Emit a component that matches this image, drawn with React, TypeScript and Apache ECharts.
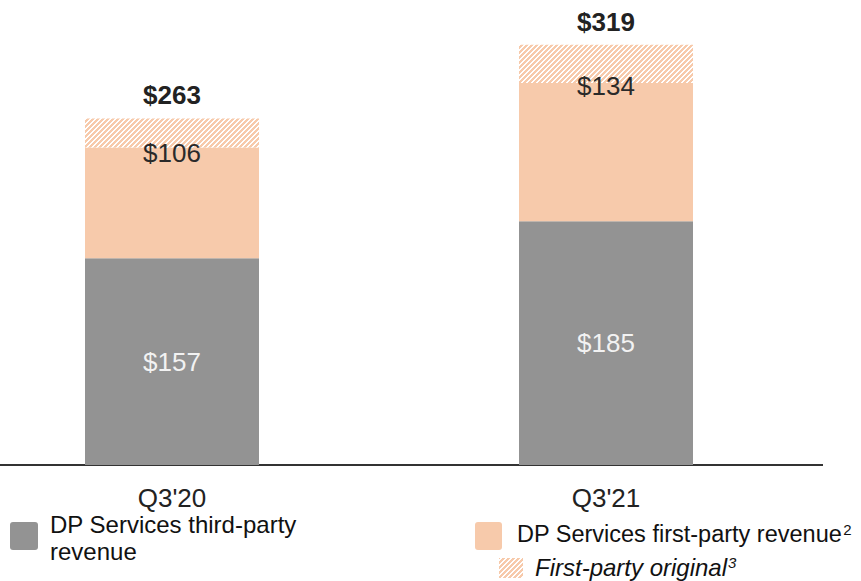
import React, { useEffect, useRef } from "react";
import * as echarts from "echarts";

const categories = ["Q3'20", "Q3'21"];
const thirdParty = [157, 185];
const firstPartySolid = [84, 105];
const firstPartyOriginalPart = [22, 29];
const firstPartyTotals = [106, 134];
const grandTotals = [263, 319];

const GRAY = "#939393";
const PEACH = "#f7caab";

function makeHatch(): HTMLCanvasElement {
  const s = 5;
  const c = document.createElement("canvas");
  c.width = s;
  c.height = s;
  const ctx = c.getContext("2d")!;
  ctx.fillStyle = "#ffffff";
  ctx.fillRect(0, 0, s, s);
  ctx.fillStyle = PEACH;
  for (let x = 0; x < s; x++) {
    for (let y = 0; y < s; y++) {
      if ((x + y) % s < 3) ctx.fillRect(x, y, 1, 1);
    }
  }
  return c;
}

export default function App() {
  const ref = useRef<HTMLDivElement>(null);
  useEffect(() => {
    if (!ref.current) return;
    const chart = echarts.init(ref.current, null, { renderer: "svg" });
    const hatch = makeHatch();
    const font = "'Liberation Sans', Arial, Helvetica, sans-serif";
    chart.setOption({
      animation: false,
      textStyle: { fontFamily: font },
      grid: { left: 172, width: 434, top: 17, bottom: 116 },
      xAxis: {
        type: "category",
        data: categories,
        boundaryGap: false,
        axisLine: { show: false },
        axisTick: { show: false },
        axisLabel: { fontSize: 26, color: "#222", margin: 20, fontFamily: font },
      },
      yAxis: { type: "value", min: 0, max: 340, show: false, splitLine: { show: false } },
      series: [
        {
          name: "DP Services third-party revenue",
          type: "bar",
          stack: "a",
          barWidth: 174,
          clip: false,
          data: thirdParty,
          itemStyle: { color: GRAY },
          label: {
            show: true,
            position: "inside",
            fontSize: 26,
            color: "#f2f2f2",
            fontFamily: font,
            formatter: (p: any) => "$" + p.value,
          },
        },
        {
          name: "DP Services first-party revenue",
          type: "bar",
          stack: "a",
          barWidth: 174,
          clip: false,
          data: firstPartySolid.map((v, i) => ({
            value: v,
            label: { position: ["50%", i === 0 ? 6 : 3] },
          })),
          itemStyle: { color: PEACH },
          label: {
            show: true,
            align: "center",
            verticalAlign: "middle",
            fontSize: 26,
            color: "#2a2a2a",
            fontFamily: font,
            formatter: (p: any) => "$" + firstPartyTotals[p.dataIndex],
          },
        },
        {
          name: "First-party original",
          type: "bar",
          stack: "a",
          barWidth: 174,
          clip: false,
          data: firstPartyOriginalPart,
          itemStyle: { color: { image: hatch, repeat: "repeat" } },
          label: {
            show: true,
            position: "top",
            distance: 10,
            fontSize: 26,
            fontWeight: "bold",
            color: "#222",
            fontFamily: font,
            formatter: (p: any) => "$" + grandTotals[p.dataIndex],
          },
        },
      ],
      graphic: [
        { type: "line", shape: { x1: 0, y1: 465, x2: 823, y2: 465 }, style: { stroke: "#333", lineWidth: 2 } },
        { type: "rect", shape: { x: 10, y: 522, width: 28, height: 28, r: 3 }, style: { fill: GRAY } },
        {
          type: "text",
          x: 50,
          y: 524,
          style: { text: "DP Services third-party", fontSize: 24, fill: "#111", fontFamily: font, verticalAlign: "middle" },
        },
        {
          type: "text",
          x: 50,
          y: 551,
          style: { text: "revenue", fontSize: 24, fill: "#111", fontFamily: font, verticalAlign: "middle" },
        },
        { type: "rect", shape: { x: 475, y: 522, width: 27, height: 28, r: 3 }, style: { fill: PEACH } },
        {
          type: "text",
          x: 517,
          y: 534,
          style: {
            text: "{a|DP Services first-party revenue}{s|2}",
            fontFamily: font,
            verticalAlign: "middle",
            rich: {
              a: { fontSize: 23.5, fill: "#111", fontFamily: font },
              s: { fontSize: 15, fill: "#111", fontFamily: font, padding: [0, 0, 10, 1] },
            },
          },
        },
        { type: "rect", shape: { x: 499, y: 558, width: 24, height: 20 }, style: { fill: { image: hatch, repeat: "repeat" } as any } },
        {
          type: "text",
          x: 535,
          y: 567,
          style: {
            text: "{a|First-party original}{s|3}",
            fontFamily: font,
            verticalAlign: "middle",
            rich: {
              a: { fontSize: 24, lineHeight: 24, fontStyle: "italic", fill: "#111", fontFamily: font },
              s: { fontSize: 15, fontStyle: "italic", fill: "#111", fontFamily: font, padding: [0, 0, 10, 1] },
            },
          },
        },
      ],
    });
    return () => chart.dispose();
  }, []);
  return <div ref={ref} style={{ width: 861, height: 581, position: "absolute", left: 0, top: 0 }} />;
}
